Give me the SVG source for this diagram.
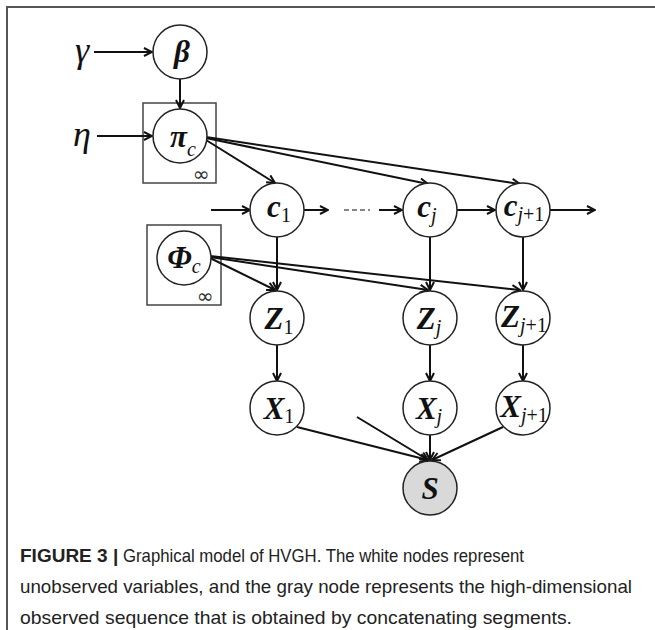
<svg xmlns="http://www.w3.org/2000/svg" width="655" height="630" viewBox="0 0 655 630">
<style>
.frame{stroke:#555;stroke-width:2;fill:none}
.node{fill:#fff;stroke:#222;stroke-width:1.5}
.obs{fill:#d9d9d9;stroke:#222;stroke-width:1.5}
.plate{fill:none;stroke:#444;stroke-width:1.5}
.edge{stroke:#111;stroke-width:2;fill:none;marker-end:url(#ah)}
.dash{stroke:#111;stroke-width:1;fill:none;stroke-dasharray:5,3}
.m{font-family:"Liberation Serif","DejaVu Serif",serif;font-weight:bold;font-style:italic;font-size:31px;fill:#111}
.s{font-family:"Liberation Serif","DejaVu Serif",serif;font-style:italic;font-size:20px;fill:#111;font-weight:normal}
.n{font-family:"Liberation Serif","DejaVu Serif",serif;font-style:normal;font-size:20px;fill:#111;font-weight:normal}
.g{font-family:"Liberation Serif","DejaVu Serif",serif;font-style:italic;font-size:36px;fill:#111}
.inf{font-family:"DejaVu Sans",sans-serif;font-size:20px;fill:#333}
.cap{font-family:"Liberation Sans",Arial,sans-serif;font-size:19px;fill:#222}
</style>
<defs>
<marker id="ah" viewBox="0 0 10 10" refX="9" refY="5" markerWidth="10" markerHeight="10" markerUnits="userSpaceOnUse" orient="auto">
<path d="M1,1 L9,5 L1,9" fill="none" stroke="#111" stroke-width="2"/>
</marker>
</defs>
<path class="frame" d="M7,630 L7,7 L655,7"/>

<g id="plates">
<rect class="plate" x="143" y="103" width="73" height="80"/>
<text class="inf" x="201" y="181" text-anchor="middle">∞</text>
<rect class="plate" x="147" y="225" width="74" height="80"/>
<text class="inf" x="205" y="303" text-anchor="middle">∞</text>
</g>

<g id="connectors">
<line class="edge" x1="94" y1="52" x2="152" y2="52"/>
<line class="edge" x1="97" y1="136" x2="152" y2="136"/>
<line class="edge" x1="180" y1="79" x2="180" y2="108"/>
<line class="edge" x1="206" y1="140" x2="275" y2="183"/>
<line class="edge" x1="206" y1="138" x2="428" y2="184"/>
<line class="edge" x1="206" y1="137" x2="520" y2="184"/>
<line class="edge" x1="211" y1="210" x2="250" y2="210"/>
<line class="edge" x1="304" y1="210" x2="328" y2="210"/>
<line class="dash" x1="344" y1="210" x2="370" y2="210"/>
<line class="edge" x1="379" y1="210" x2="402" y2="210"/>
<line class="edge" x1="457" y1="210" x2="495" y2="210"/>
<line class="edge" x1="550" y1="210" x2="595" y2="210"/>
<line class="edge" x1="277" y1="237" x2="277" y2="290"/>
<line class="edge" x1="430" y1="237" x2="430" y2="290"/>
<line class="edge" x1="523" y1="237" x2="523" y2="290"/>
<line class="edge" x1="210" y1="258" x2="275" y2="290"/>
<line class="edge" x1="210" y1="257" x2="428" y2="290"/>
<line class="edge" x1="210" y1="256" x2="520" y2="290"/>
<line class="edge" x1="277" y1="345" x2="277" y2="381"/>
<line class="edge" x1="430" y1="345" x2="430" y2="381"/>
<line class="edge" x1="523" y1="345" x2="523" y2="381"/>
<line class="edge" x1="297" y1="427" x2="428" y2="460"/>
<line class="edge" x1="357" y1="417" x2="428" y2="460"/>
<line class="edge" x1="430" y1="435" x2="430" y2="460"/>
<line class="edge" x1="503" y1="427" x2="432" y2="460"/>
</g>

<g id="gamma"><text class="g" x="82" y="62" text-anchor="middle">γ</text></g>
<g id="eta"><text class="g" x="82" y="146" text-anchor="middle">η</text></g>

<g id="beta">
<circle class="node" cx="180" cy="52" r="27"/>
<text class="m" x="182" y="62" text-anchor="middle" font-size="32">β</text>
</g>
<g id="pi_c">
<circle class="node" cx="180" cy="136" r="27"/>
<text x="183" y="147" text-anchor="middle"><tspan class="m" font-size="32">π</tspan><tspan class="s" font-size="25" dy="9">c</tspan></text>
</g>
<g id="phi_c">
<circle class="node" cx="184" cy="258" r="27"/>
<text x="184" y="268" text-anchor="middle"><tspan class="m" font-size="33">Φ</tspan><tspan class="s" font-size="25" dy="5">c</tspan></text>
</g>

<g id="c1">
<circle class="node" cx="277" cy="210" r="27"/>
<text x="279" y="217" text-anchor="middle"><tspan class="m">c</tspan><tspan class="n" dy="5">1</tspan></text>
</g>
<g id="cj">
<circle class="node" cx="430" cy="210" r="27"/>
<text x="427" y="217" text-anchor="middle"><tspan class="m">c</tspan><tspan class="s" dy="5">j</tspan></text>
</g>
<g id="cj1">
<circle class="node" cx="523" cy="210" r="27"/>
<text x="524" y="216" text-anchor="middle"><tspan class="m" font-size="28">c</tspan><tspan class="s" font-size="18" dy="5">j</tspan><tspan class="n" font-size="18">+1</tspan></text>
</g>

<g id="z1">
<circle class="node" cx="277" cy="318" r="27"/>
<text x="279" y="329" text-anchor="middle"><tspan class="m">Z</tspan><tspan class="n" dy="5">1</tspan></text>
</g>
<g id="zj">
<circle class="node" cx="430" cy="318" r="27"/>
<text x="429" y="329" text-anchor="middle"><tspan class="m">Z</tspan><tspan class="s" dy="5">j</tspan></text>
</g>
<g id="zj1">
<circle class="node" cx="523" cy="318" r="27"/>
<text x="524" y="327" text-anchor="middle"><tspan class="m" font-size="27">Z</tspan><tspan class="s" font-size="18" dy="5">j</tspan><tspan class="n" font-size="18">+1</tspan></text>
</g>

<g id="x1">
<circle class="node" cx="277" cy="408" r="27"/>
<text x="279" y="419" text-anchor="middle"><tspan class="m">X</tspan><tspan class="n" dy="4">1</tspan></text>
</g>
<g id="xj">
<circle class="node" cx="430" cy="408" r="27"/>
<text x="429" y="419" text-anchor="middle"><tspan class="m">X</tspan><tspan class="s" dy="4">j</tspan></text>
</g>
<g id="xj1">
<circle class="node" cx="523" cy="408" r="27"/>
<text x="524" y="417" text-anchor="middle"><tspan class="m" font-size="27">X</tspan><tspan class="s" font-size="18" dy="5">j</tspan><tspan class="n" font-size="18">+1</tspan></text>
</g>

<g id="s">
<circle class="obs" cx="430" cy="488" r="27"/>
<text class="m" x="430" y="499" text-anchor="middle" font-size="32">S</text>
</g>

<g id="caption">
<text class="cap" x="20" y="562" font-weight="bold">FIGURE 3 |</text>
<text class="cap" x="123" y="562" textLength="401" lengthAdjust="spacingAndGlyphs">Graphical model of HVGH. The white nodes represent</text>
<text class="cap" x="20" y="593" textLength="612" lengthAdjust="spacingAndGlyphs">unobserved variables, and the gray node represents the high-dimensional</text>
<text class="cap" x="20" y="624" textLength="552" lengthAdjust="spacingAndGlyphs">observed sequence that is obtained by concatenating segments.</text>
</g>
</svg>
